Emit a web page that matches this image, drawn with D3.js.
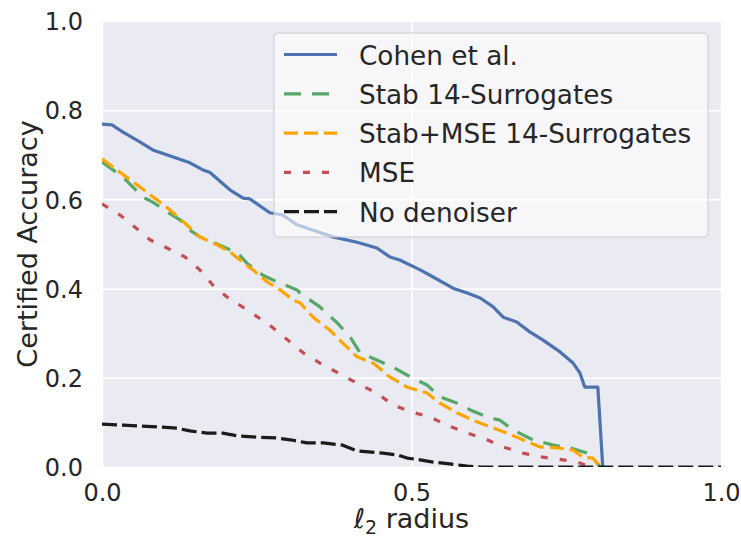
<!DOCTYPE html>
<html>
<head>
<meta charset="utf-8">
<script src="https://cdn.jsdelivr.net/npm/d3@7"></script>
<style>
  body { margin: 0; background: #fff; }
  text { font-family: "DejaVu Sans", sans-serif; fill: #262626; }
</style>
</head>
<body>
<div id="chart"></div>
<script>
// certified accuracy vs l2 radius
const cohen = [[0,0.769],[0.016,0.767],[0.034,0.751],[0.061,0.729],[0.082,0.711],[0.115,0.695],[0.142,0.682],[0.163,0.666],[0.174,0.661],[0.207,0.621],[0.228,0.603],[0.239,0.601],[0.271,0.570],[0.292,0.565],[0.315,0.543],[0.373,0.516],[0.412,0.504],[0.444,0.491],[0.465,0.471],[0.481,0.464],[0.514,0.442],[0.535,0.426],[0.567,0.401],[0.59,0.39],[0.611,0.379],[0.632,0.359],[0.648,0.336],[0.67,0.325],[0.691,0.303],[0.712,0.285],[0.74,0.258],[0.761,0.233],[0.772,0.211],[0.78,0.179],[0.801,0.179],[0.809,0]];
const stab = [[0,0.684],[0.034,0.650],[0.066,0.605],[0.082,0.594],[0.105,0.572],[0.126,0.554],[0.142,0.531],[0.158,0.516],[0.179,0.504],[0.207,0.487],[0.218,0.482],[0.234,0.457],[0.26,0.43],[0.283,0.415],[0.315,0.397],[0.32,0.39],[0.352,0.359],[0.38,0.323],[0.401,0.291],[0.417,0.256],[0.444,0.240],[0.47,0.224],[0.498,0.202],[0.525,0.184],[0.546,0.157],[0.574,0.143],[0.595,0.128],[0.622,0.112],[0.643,0.105],[0.664,0.083],[0.696,0.061],[0.729,0.049],[0.756,0.043],[0.784,0.031],[0.793,0.02],[0.805,0]];
const stabMse = [[0,0.691],[0.029,0.661],[0.057,0.632],[0.089,0.599],[0.11,0.576],[0.137,0.543],[0.158,0.516],[0.186,0.498],[0.207,0.482],[0.223,0.464],[0.244,0.442],[0.267,0.415],[0.288,0.397],[0.309,0.374],[0.32,0.368],[0.341,0.336],[0.368,0.307],[0.389,0.278],[0.412,0.247],[0.438,0.233],[0.465,0.202],[0.493,0.179],[0.525,0.166],[0.546,0.143],[0.574,0.121],[0.599,0.105],[0.627,0.09],[0.654,0.076],[0.68,0.061],[0.708,0.045],[0.735,0.043],[0.761,0.038],[0.777,0.022],[0.793,0.02],[0.805,0]];
const mse = [[0,0.59],[0.029,0.565],[0.053,0.538],[0.078,0.509],[0.105,0.491],[0.134,0.471],[0.158,0.442],[0.179,0.408],[0.202,0.381],[0.239,0.348],[0.271,0.318],[0.325,0.256],[0.352,0.233],[0.388,0.206],[0.417,0.184],[0.444,0.166],[0.47,0.139],[0.501,0.123],[0.53,0.112],[0.557,0.094],[0.59,0.076],[0.622,0.061],[0.648,0.045],[0.68,0.031],[0.712,0.022],[0.745,0.016],[0.772,0.009],[0.788,0]];
const noDenoiser = [[0,0.096],[0.034,0.094],[0.061,0.092],[0.089,0.09],[0.121,0.087],[0.142,0.081],[0.17,0.076],[0.195,0.076],[0.218,0.07],[0.25,0.067],[0.283,0.065],[0.304,0.061],[0.331,0.054],[0.357,0.054],[0.389,0.049],[0.412,0.036],[0.454,0.031],[0.477,0.027],[0.493,0.02],[0.514,0.016],[0.535,0.011],[0.562,0.007],[0.59,0.002],[0.611,0],[1.0,0]];

const xTicks = [0, 0.5, 1.0];
const yTicks = [0, 0.2, 0.4, 0.6, 0.8, 1.0];

const series = [
    {name: "Cohen et al.", data: cohen, color: "#4c72b0", dash: null},
    {name: "Stab 14-Surrogates", data: stab, color: "#55a868", dash: "17,11"},
    {name: "Stab+MSE 14-Surrogates", data: stabMse, color: "#ffa500", dash: "14,6"},
    {name: "MSE", data: mse, color: "#c44e52", dash: "7,12"},
    {name: "No denoiser", data: noDenoiser, color: "#1a1a1a", dash: "15,5"}
];

var margin = {top: 21, right: 20, bottom: 71, left: 102},
    width = 741 - margin.left - margin.right,
    height = 538 - margin.top - margin.bottom;

var svg = d3.select("#chart")
    .append("svg")
    .attr("width", 741)
    .attr("height", 538)
    .append("g")
    .attr("transform", "translate(" + margin.left + "," + margin.top + ")");

var x = d3.scaleLinear().domain([0, 1]).range([0, width]);
var y = d3.scaleLinear().domain([0, 1]).range([height, 0]);

svg.append("rect")
    .attr("width", width)
    .attr("height", height)
    .attr("fill", "#eaeaf2");

// grid
svg.append("g")
    .call(d3.axisLeft(y).tickValues(yTicks).tickSize(-width).tickFormat(""))
    .call(g => g.select(".domain").remove())
    .selectAll("line").attr("stroke", "#fff").attr("stroke-width", 1.6);
svg.append("g")
    .attr("transform", "translate(0," + height + ")")
    .call(d3.axisBottom(x).tickValues(xTicks).tickSize(-height).tickFormat(""))
    .call(g => g.select(".domain").remove())
    .selectAll("line").attr("stroke", "#fff").attr("stroke-width", 1.6);

// tick labels
svg.append("g")
    .call(d3.axisLeft(y).tickValues(yTicks).tickSize(0).tickPadding(19).tickFormat(d3.format(".1f")))
    .call(g => g.select(".domain").remove())
    .selectAll("text")
    .style("font-size", "24px")
    .attr("dy", "0.36em");
svg.append("g")
    .attr("transform", "translate(0," + height + ")")
    .call(d3.axisBottom(x).tickValues(xTicks).tickSize(0).tickPadding(17).tickFormat(d3.format(".1f")))
    .call(g => g.select(".domain").remove())
    .selectAll("text")
    .style("font-size", "24px")
    .attr("dy", "0.71em");

svg.append("clipPath").attr("id", "clip")
    .append("rect").attr("width", width).attr("height", height);

var line = d3.line()
    .x(d => x(d[0]))
    .y(d => y(d[1]));

var plot = svg.append("g").attr("clip-path", "url(#clip)");
series.forEach(s => {
    plot.append("path")
        .datum(s.data)
        .attr("d", line)
        .attr("fill", "none")
        .attr("stroke", s.color)
        .attr("stroke-width", 3.2)
        .attr("stroke-linejoin", "round")
        .attr("stroke-dasharray", s.dash);
});

// legend
var lg = svg.append("g").attr("transform", "translate(" + (274 - margin.left) + "," + (33 - margin.top) + ")");
lg.append("rect")
    .attr("width", 434)
    .attr("height", 204)
    .attr("rx", 4)
    .attr("fill", "#ffffff")
    .attr("fill-opacity", 0.6)
    .attr("stroke", "#cccccc")
    .attr("stroke-width", 1);
series.forEach((s, i) => {
    var cy = 21.5 + i * 39.3;
    lg.append("line")
        .attr("x1", 10).attr("x2", 63)
        .attr("y1", cy).attr("y2", cy)
        .attr("stroke", s.color)
        .attr("stroke-width", 3.2)
        .attr("stroke-dasharray", s.dash);
    lg.append("text")
        .attr("x", 85)
        .attr("y", cy + 10)
        .style("font-size", "26.3px")
        .text(s.name);
});

// axis labels
var xl = svg.append("text")
    .attr("x", width / 2)
    .attr("y", 528 - margin.top)
    .attr("text-anchor", "middle")
    .style("font-size", "27px");
xl.append("tspan").style("font-style", "italic").text("ℓ");
xl.append("tspan").attr("dy", 6).style("font-size", "19px").text("2");
xl.append("tspan").attr("dy", -6).text(" radius");

svg.append("text")
    .attr("transform", "translate(" + (37 - margin.left) + "," + (height / 2) + ") rotate(-90)")
    .attr("text-anchor", "middle")
    .style("font-size", "27px")
    .text("Certified Accuracy");
</script>
</body>
</html>
